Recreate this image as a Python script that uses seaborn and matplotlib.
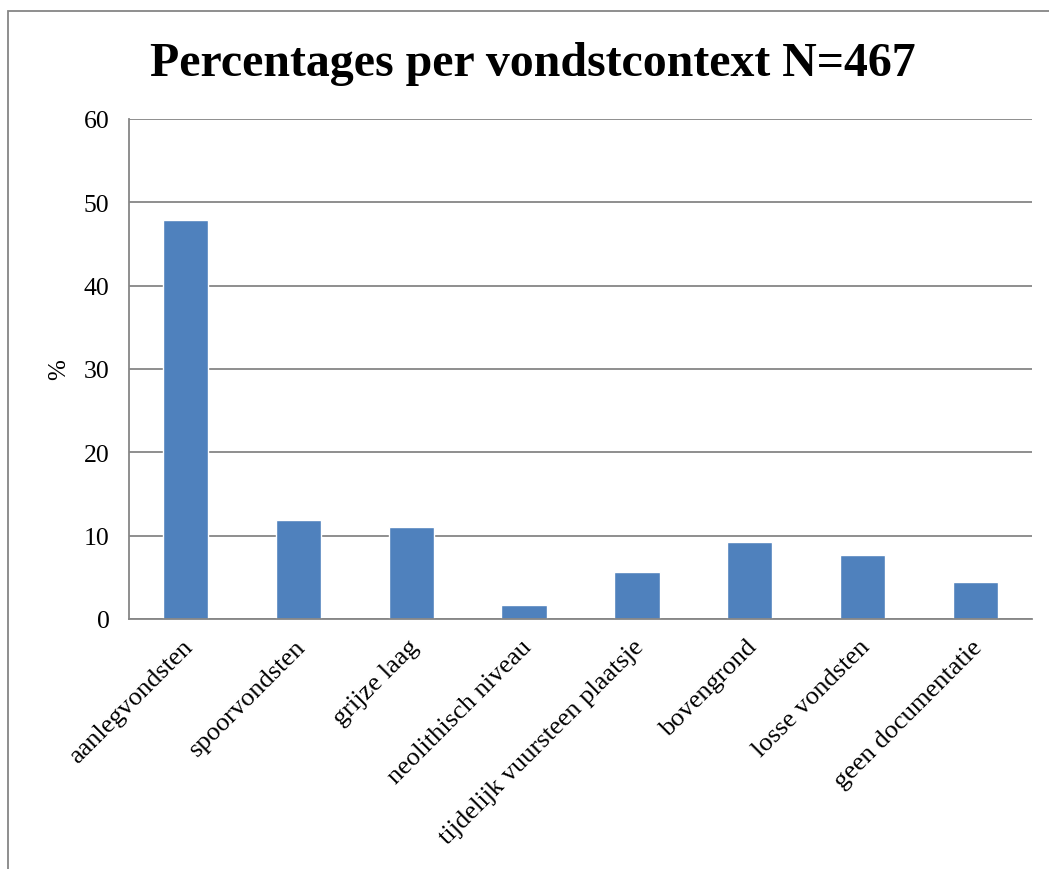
import matplotlib
matplotlib.use("Agg")
import matplotlib.pyplot as plt
import seaborn as sns
import pandas as pd
from matplotlib.patches import Rectangle
from matplotlib.transforms import ScaledTranslation

categories = ["aanlegvondsten", "spoorvondsten", "grijze laag", "neolithisch niveau",
              "tijdelijk vuursteen plaatsje", "bovengrond", "losse vondsten", "geen documentatie"]
percentages = [47.9, 11.9, 11.1, 1.7, 5.6, 9.2, 7.7, 4.5]
yticks = [0, 10, 20, 30, 40, 50, 60]

sns.set_theme(style="white")
plt.rcParams['font.family'] = ['Liberation Serif', 'DejaVu Serif']
plt.rcParams['text.color'] = 'black'
plt.rcParams['xtick.color'] = 'black'
plt.rcParams['ytick.color'] = 'black'
plt.rcParams['axes.labelcolor'] = 'black'

df = pd.DataFrame({"context": categories, "pct": percentages})

fig = plt.figure(figsize=(10.49, 8.70), dpi=100)
ax = fig.add_axes([129/1049, 1-620/870, (1032-129)/1049, 500/870])

sns.barplot(data=df, x="context", y="pct", color="#4F81BD", saturation=1, width=0.4, ax=ax)

ax.set_ylim(0, 60)
ax.set_yticks(yticks)
ax.set_yticklabels([str(t) for t in yticks], fontsize=18.5)
ax.yaxis.grid(True, color="#868686", linewidth=1.3)
ax.set_axisbelow(True)
for s in ["top", "right"]:
    ax.spines[s].set_visible(False)
for s in ["left", "bottom"]:
    ax.spines[s].set_color("#868686")
    ax.spines[s].set_linewidth(1.3)
ax.tick_params(axis="y", length=0, pad=14)
ax.tick_params(axis="x", length=0, pad=12)
ax.set_xticks(range(len(categories)))
ax.set_xticklabels(categories, rotation=45, ha="right", va="top", rotation_mode="anchor", fontsize=19)
offset = ScaledTranslation(-4/100, 0, fig.dpi_scale_trans)
for lbl in ax.get_xticklabels():
    lbl.set_transform(lbl.get_transform() + offset)
ax.set_xlabel("")
ax.set_ylabel("%", fontsize=18, labelpad=10)

fig.text(0.508, 1-64/870, "Percentages per vondstcontext N=467", ha="center", va="center",
         fontsize=34.5, fontweight="bold")

fig.patches.append(Rectangle((8/1049, -0.1), 1.2, 1-12/870+0.1, transform=fig.transFigure,
                             fill=False, edgecolor="#868686", linewidth=1.3))

fig.savefig("out.png", dpi=100)
